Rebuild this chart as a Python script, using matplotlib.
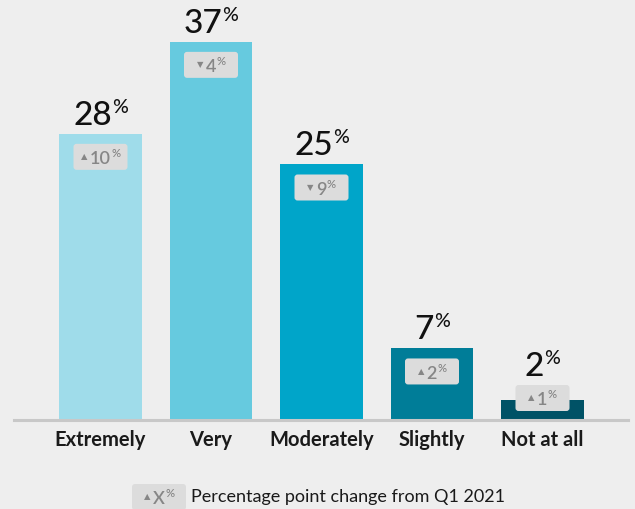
import matplotlib
matplotlib.use("Agg")
import matplotlib.pyplot as plt
import matplotlib.transforms as mtrans
from matplotlib.patches import FancyBboxPatch

plt.rcParams['font.family'] = ['Lato', 'DejaVu Sans']

categories = ['Extremely', 'Very', 'Moderately', 'Slightly', 'Not at all']
values = [28, 37, 25, 7, 2]
changes = [10, 4, 9, 2, 1]
directions = ['up', 'down', 'down', 'up', 'up']
colors = ['#9fdcea', '#66cadf', '#00a5c9', '#007d98', '#005266']
legend_text = 'Percentage point change from Q1 2021'

bg = '#eeeeee'
W, H = 635, 510
PXU = 10.22  # pixels per percent
fig = plt.figure(figsize=(W / 100, H / 100), dpi=100, facecolor=bg)
# axes placed in pixels: baseline at y=421, spans x 14..628
ax = fig.add_axes([14 / W, 89 / H, 614 / W, 421 / H])
ax.set_facecolor(bg)
px_per_unit = 110.5
ax.set_xlim((14 - 100.5) / px_per_unit, (628 - 100.5) / px_per_unit)
ax.set_ylim(0, 421 / PXU)
for s in ax.spines.values():
    s.set_visible(False)
ax.set_xticks([])
ax.set_yticks([])
ax.axhline(0, color='#c8c8c8', lw=2.2, clip_on=False, zorder=3)

x = list(range(len(categories)))
ax.bar(x, values, width=0.75, color=colors, zorder=2)

fig.canvas.draw()
renderer = fig.canvas.get_renderer()


def badge(trans, txt, arrow, big=13, small=8):
    box = FancyBboxPatch((-27, -13), 54, 26, boxstyle='round,pad=0,rounding_size=3',
                         facecolor='#dcdcdc', edgecolor='none', transform=trans,
                         zorder=4, clip_on=False)
    fig.add_artist(box)
    a = fig.text(0, 0, arrow, transform=trans, fontsize=6, color='#868686',
                 ha='left', va='center', zorder=5)
    n = fig.text(0, 0, txt, transform=trans, fontsize=big, color='#868686',
                 ha='left', va='baseline', zorder=5, fontweight='semibold')
    p = fig.text(0, 0, '%', transform=trans, fontsize=small, color='#868686',
                 ha='left', va='baseline', zorder=5, fontweight='semibold')
    wa = a.get_window_extent(renderer).width
    wn = n.get_window_extent(renderer).width
    wp = p.get_window_extent(renderer).width
    total = wa + 2 + wn + wp
    x0 = -total / 2
    a.set_position((x0, 1))
    n.set_position((x0 + wa + 2, -6.5))
    p.set_position((x0 + wa + 2 + wn + 0.5, 0.5))


for xi, v, c, d in zip(x, values, changes, directions):
    # change badge just below the bar top (kept above the baseline for short bars)
    by = max(v - 23 / PXU, 22 / PXU)
    badge(mtrans.Affine2D() + mtrans.ScaledTranslation(xi, by, ax.transData),
          str(c), '\u25B2' if d == 'up' else '\u25BC')

    # value label: number with small superscript percent sign
    ly = max(v, by + 13 / PXU)
    t = mtrans.Affine2D() + mtrans.ScaledTranslation(xi, ly, ax.transData)
    num = ax.text(0, 0, str(v), transform=t, fontsize=24, color='#111111',
                  ha='left', va='baseline', clip_on=False, fontweight='medium')
    pct = ax.text(0, 0, '%', transform=t, fontsize=14, color='#111111',
                  ha='left', va='baseline', clip_on=False, fontweight='medium')
    wn = num.get_window_extent(renderer).width
    wp = pct.get_window_extent(renderer).width
    x0 = -(wn + wp) / 2
    num.set_position((x0, 10))
    pct.set_position((x0 + wn, 22))

    ax.text(xi, 0, categories[xi],
            transform=ax.transData + mtrans.Affine2D().translate(0, -9),
            fontsize=14.5, fontweight='bold', color='#1a1a1a',
            ha='center', va='top', clip_on=False)

# legend at the bottom
badge(mtrans.Affine2D().translate(159, 12), 'X', '\u25B2')
fig.text(191, 13, legend_text, transform=mtrans.Affine2D(), fontsize=13,
         color='#1a1a1a', ha='left', va='center')

fig.savefig('out.png', dpi=100, facecolor=bg)
